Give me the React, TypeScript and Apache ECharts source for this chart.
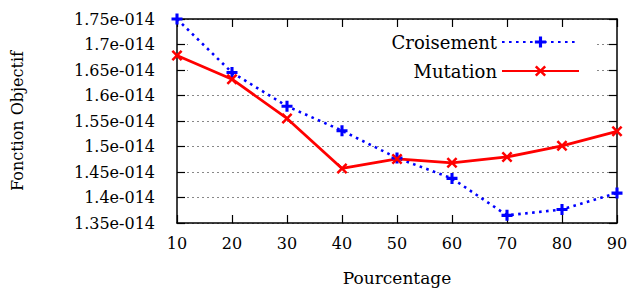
import React, { useEffect, useRef } from "react";
import * as echarts from "echarts";

const percentages = [10, 20, 30, 40, 50, 60, 70, 80, 90];
const croisement = [1.75e-14, 1.645e-14, 1.579e-14, 1.531e-14, 1.4775e-14, 1.4375e-14, 1.365e-14, 1.3765e-14, 1.4086e-14];
const mutation = [1.6785e-14, 1.632e-14, 1.555e-14, 1.457e-14, 1.4756e-14, 1.468e-14, 1.4795e-14, 1.5013e-14, 1.5297e-14];
const yMin = 1.35e-14;
const yMax = 1.75e-14;
const yStep = 0.05e-14;
const xMin = 10;
const xMax = 90;
const xStep = 10;

const FONT = "DejaVu Serif";
const PLUS = "path://M3.6,0H6.4V3.6H10V6.4H6.4V10H3.6V6.4H0V3.6H3.6Z";
const CROSS = "path://M0,1.6L1.6,0L5,3.4L8.4,0L10,1.6L6.6,5L10,8.4L8.4,10L5,6.6L1.6,10L0,8.4L3.4,5Z";

const fmtY = (v: number) => {
  const m = parseFloat((v * 1e14).toFixed(2));
  return `${m}e-014`;
};

export default function App() {
  const ref = useRef<HTMLDivElement>(null);
  useEffect(() => {
    if (!ref.current) return;
    const chart = echarts.init(ref.current, undefined, { renderer: "svg" });
    const axisLine = { show: true, lineStyle: { color: "#000", width: 1.5 } };
    const ticks = { show: true, inside: true, length: 8, lineStyle: { color: "#000", width: 1.2 } };
    chart.setOption({
      animation: false,
      backgroundColor: "#fff",
      textStyle: { fontFamily: FONT },
      grid: { left: 177, right: 17, top: 19, bottom: 65, containLabel: false },
      legend: {
        orient: "vertical",
        right: 49,
        top: 28,
        align: "right",
        itemWidth: 77,
        itemHeight: 14,
        itemGap: 11,
        textStyle: { fontFamily: FONT, fontSize: 18, color: "#000" },
        data: ["Croisement", "Mutation"],
      },
      xAxis: [
        {
          type: "value",
          min: xMin,
          max: xMax,
          interval: xStep,
          name: "Pourcentage",
          nameLocation: "middle",
          nameGap: 46,
          nameTextStyle: { fontFamily: FONT, fontSize: 17, color: "#000" },
          axisLine,
          axisTick: ticks,
          axisLabel: { fontFamily: FONT, fontSize: 16, color: "#000", margin: 12 },
          splitLine: { show: false },
        },
        {
          type: "value",
          position: "top",
          min: xMin,
          max: xMax,
          interval: xStep,
          axisLine,
          axisTick: ticks,
          axisLabel: { show: false },
          splitLine: { show: false },
        },
      ],
      yAxis: [
        {
          type: "value",
          min: yMin,
          max: yMax,
          interval: yStep,
          name: "Fonction Objectif",
          nameLocation: "middle",
          nameGap: 152,
          nameTextStyle: { fontFamily: FONT, fontSize: 16, color: "#000" },
          axisLine,
          axisTick: ticks,
          axisLabel: { fontFamily: FONT, fontSize: 16, color: "#000", margin: 22, formatter: fmtY },
          splitLine: { show: true, lineStyle: { color: "#888", width: 1, type: [2, 3] } },
        },
        {
          type: "value",
          position: "right",
          min: yMin,
          max: yMax,
          interval: yStep,
          axisLine,
          axisTick: ticks,
          axisLabel: { show: false },
          splitLine: { show: false },
        },
      ],
      graphic: [
        {
          type: "rect",
          z: 1,
          shape: { x: 188, y: 32, width: 409, height: 50 },
          style: { fill: "#fff" },
          silent: true,
        },
      ],
      series: [
        {
          name: "Croisement",
          type: "line",
          data: percentages.map((p, i) => [p, croisement[i]]),
          symbol: PLUS,
          symbolSize: 11,
          showAllSymbol: true,
          itemStyle: { color: "#0000ff" },
          lineStyle: { color: "#0000ff", width: 2.6, type: [2.6, 4.4] },
          clip: false,
          z: 3,
        },
        {
          name: "Mutation",
          type: "line",
          data: percentages.map((p, i) => [p, mutation[i]]),
          symbol: CROSS,
          symbolSize: 11,
          showAllSymbol: true,
          itemStyle: { color: "#ff0000" },
          lineStyle: { color: "#ff0000", width: 2.8 },
          clip: false,
          z: 3,
        },
      ],
    });
    return () => chart.dispose();
  }, []);
  return <div ref={ref} style={{ width: 634, height: 291, position: "fixed", left: 0, top: 0 }} />;
}
